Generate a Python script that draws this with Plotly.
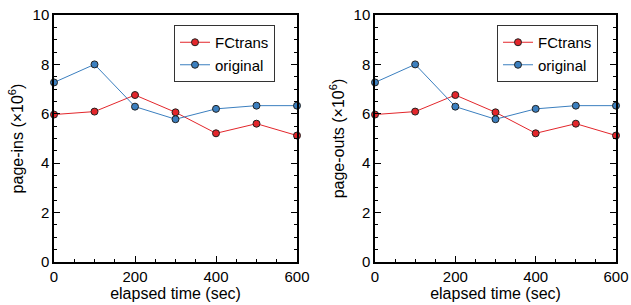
import plotly.graph_objects as go

time_sec = [0, 100, 200, 300, 400, 500, 600]
fctrans_in = [5.97, 6.09, 6.76, 6.06, 5.21, 5.60, 5.12]
original_in = [7.27, 8.0, 6.29, 5.78, 6.20, 6.33, 6.33]
fctrans_out = [5.97, 6.09, 6.76, 6.06, 5.21, 5.60, 5.12]
original_out = [7.27, 8.0, 6.29, 5.78, 6.20, 6.33, 6.33]
y_titles = ["page-ins (×10<sup>6</sup>)", "page-outs (×10<sup>6</sup>)"]
x_title = "elapsed time (sec)"

RED = "#e3262b"
BLUE = "#3b7fbf"
FONT = "Liberation Sans, Arial, sans-serif"

W, H = 631, 305

fig = go.Figure()

panels = [(fctrans_in, original_in, "x", "y", "legend"),
          (fctrans_out, original_out, "x2", "y2", "legend2")]
for fc, orig, xa, ya, lg in panels:
    fig.add_trace(go.Scatter(x=time_sec, y=fc, mode="lines+markers", name="FCtrans",
                             xaxis=xa, yaxis=ya, legend=lg, cliponaxis=False,
                             line=dict(color=RED, width=1),
                             marker=dict(color=RED, size=7, line=dict(color="#222", width=1))))
    fig.add_trace(go.Scatter(x=time_sec, y=orig, mode="lines+markers", name="original",
                             xaxis=xa, yaxis=ya, legend=lg, cliponaxis=False,
                             line=dict(color=BLUE, width=1),
                             marker=dict(color=BLUE, size=7, line=dict(color="#222", width=1))))

axis_common = dict(showgrid=False, zeroline=False, showline=True, linecolor="black",
                   linewidth=1.5, ticks="inside", ticklen=6, tickwidth=1, tickcolor="black",
                   automargin=False, ticklabeloverflow="allow",
                   tickfont=dict(size=15, color="black", family=FONT))
xdom = [[54 / W, 297 / W], [375 / W, 616 / W]]
ydom = [1 - 262 / H, 1 - 15 / H]
for i, (xa, ya) in enumerate([("xaxis", "yaxis"), ("xaxis2", "yaxis2")]):
    anchor_y = "y" if i == 0 else "y2"
    anchor_x = "x" if i == 0 else "x2"
    fig.layout[xa] = dict(axis_common, domain=xdom[i], anchor=anchor_y, range=[0, 600],
                          dtick=200, mirror=True,
                          minor=dict(dtick=50, ticks="inside", ticklen=3, tickcolor="black"),
                          title=dict(text=x_title, standoff=1,
                                     font=dict(size=16, family=FONT, color="black")))
    fig.layout[ya] = dict(axis_common, domain=ydom, anchor=anchor_x, range=[0, 10],
                          dtick=2, mirror="ticks",
                          minor=dict(dtick=0.5, ticks="inside", ticklen=3, tickcolor="black"),
                          title=dict(text=y_titles[i], standoff=5,
                                     font=dict(size=16, family=FONT, color="black")))

leg_common = dict(bgcolor="white", bordercolor="#333", borderwidth=1,
                  font=dict(size=15, family=FONT, color="black"),
                  xanchor="left", yanchor="top", itemwidth=30, tracegroupgap=0)
fig.update_layout(
    width=W, height=H, margin=dict(l=0, r=0, t=0, b=0, pad=0, autoexpand=False),
    paper_bgcolor="white", plot_bgcolor="white",
    font=dict(family=FONT, color="black"),
    legend=dict(leg_common, x=174 / W, y=1 - 25 / H),
    legend2=dict(leg_common, x=497 / W, y=1 - 25 / H),
)

fig.write_html("out.html", config={"displayModeBar": False},
               post_script="document.body.style.margin='0';document.body.style.overflow='hidden';")
